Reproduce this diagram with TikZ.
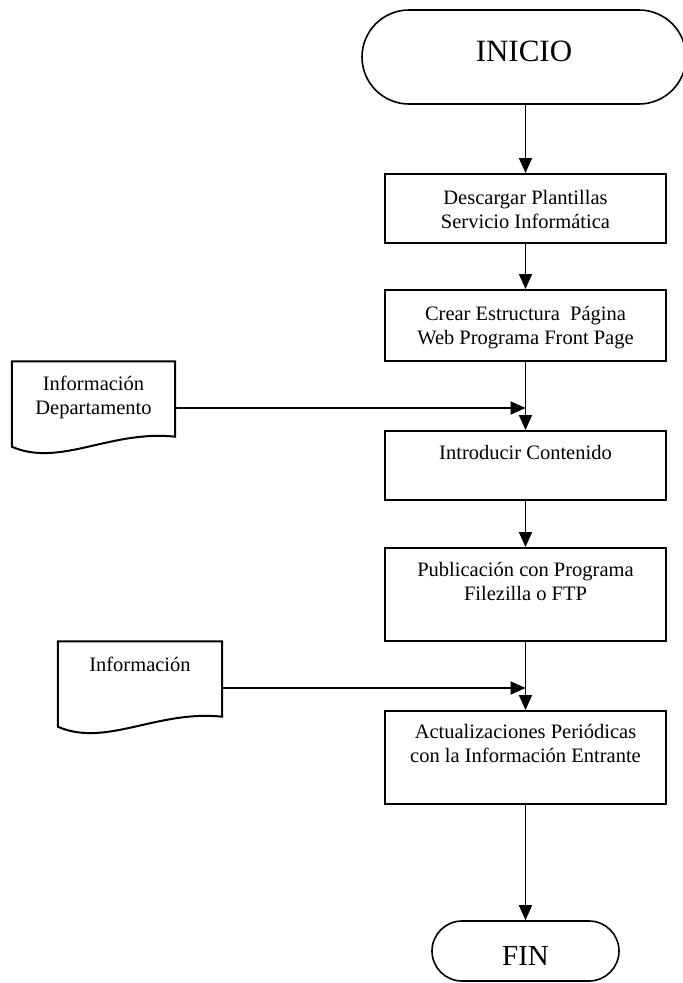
\documentclass[tikz,border=0pt]{standalone}
\usepackage{fontspec}
\setmainfont{Liberation Serif}
\usetikzlibrary{arrows.meta}
\begin{document}
\begin{tikzpicture}[x=1pt,y=-1pt,
  procbox/.style={draw, line width=2pt, minimum width=281pt, inner sep=0pt},
  terminal/.style={draw, line width=1.6pt, inner sep=0pt},
  boxtext/.style={anchor=north, inner sep=0pt, align=center, font=\fontsize{20.5}{24}\selectfont},
  docbox/.style={minimum width=163pt, minimum height=93pt, inner sep=0pt},
  docline/.style={line width=2pt, line join=miter},
  flow/.style={line width=1.7pt, -{Triangle[length=15pt,width=13pt]}},
]
\clip (0,0) rectangle (683,983);

% start and end terminals
\node[terminal, rounded corners=47pt, minimum width=324pt, minimum height=94pt,
      font=\fontsize{31}{36}\selectfont, text height=20pt, text depth=12pt]
      (inicio) at (524,57) {INICIO};
\node[terminal, rounded corners=30pt, minimum width=187pt, minimum height=60pt,
      font=\fontsize{29}{34}\selectfont, text height=28pt, text depth=0pt]
      (fin) at (525.5,951) {FIN};

% process boxes
\node[procbox, minimum height=69pt] (b1) at (525.5,208.5) {};
\node[procbox, minimum height=71pt] (b2) at (525.5,325.5) {};
\node[procbox, minimum height=69pt] (b3) at (525.5,465.5) {};
\node[procbox, minimum height=93pt] (b4) at (525.5,594.5) {};
\node[procbox, minimum height=93pt] (b5) at (525.5,757.5) {};

\node[boxtext] (t1) at ([yshift=-14.2pt]b1.north) {\strut Descargar Plantillas\\Servicio Informática};
\node[boxtext] (t2) at ([yshift=-14.2pt]b2.north) {\strut Crear Estructura~ Página\\Web Programa Front Page};
\node[boxtext] (t3) at ([yshift=-12.2pt]b3.north) {\strut Introducir Contenido};
\node[boxtext] (t4) at ([yshift=-12.2pt]b4.north) {\strut Publicación con Programa\\Filezilla o FTP};
\node[boxtext] (t5) at ([yshift=-11.2pt]b5.north) {\strut Actualizaciones Periódicas\\con la Información Entrante};

% document symbols (inputs)
\node[docbox] (d1) at (93.5,408) {};
\node[docbox, minimum width=164pt] (d2) at (140,688) {};
\foreach \d in {d1,d2}{
  \draw[docline] (\d.north west) -- (\d.north east) -- ([yshift=18pt]\d.south east)
    .. controls ([xshift=-65pt,yshift=25pt]\d.south east) and ([xshift=48pt,yshift=-13pt]\d.south west)
    .. ([yshift=8pt]\d.south west) -- cycle;
}
\node[boxtext] (dt1) at ([yshift=-12.2pt]d1.north) {\strut Información\\Departamento};
\node[boxtext] (dt2) at ([yshift=-13.2pt]d2.north) {\strut Información};

% main flow
\draw[flow] (inicio.south -| b1.north) -- (b1.north);
\draw[flow] (b1.south) -- (b2.north);
\draw[flow] (b2.south) -- (b3.north);
\draw[flow] (b3.south) -- (b4.north);
\draw[flow] (b4.south) -- (b5.north);
\draw[flow] (b5.south) -- (fin.north);

% inputs joining the flow
\draw[flow] (d1.east) -- (d1.east -| b2.south);
\draw[flow] (d2.east) -- (d2.east -| b4.south);
\end{tikzpicture}
\end{document}
